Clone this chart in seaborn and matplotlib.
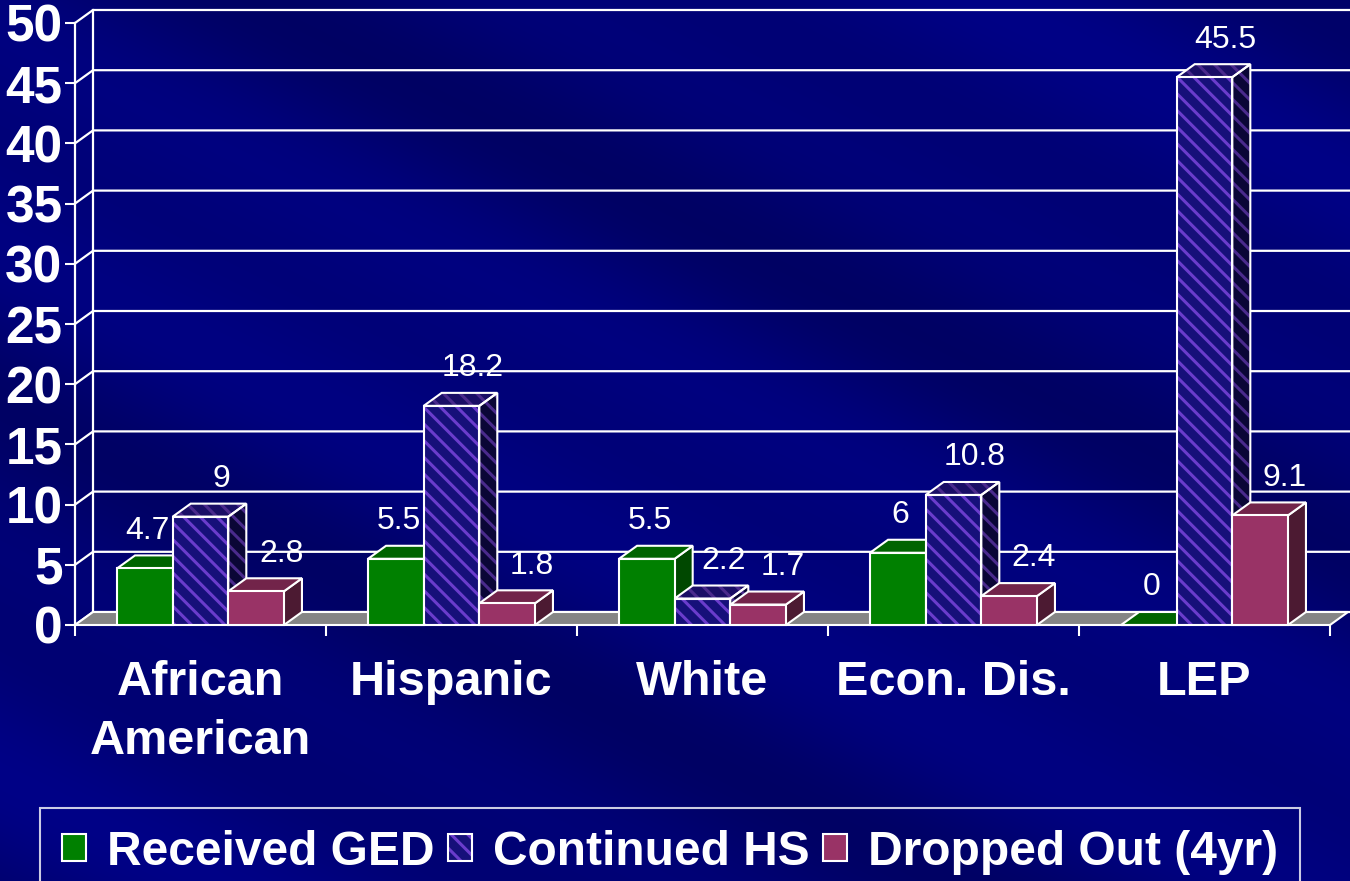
import matplotlib
matplotlib.use("Agg")
import matplotlib.pyplot as plt
from matplotlib.patches import Polygon, Rectangle, Patch
from matplotlib.legend_handler import HandlerTuple
import numpy as np
import pandas as pd
import seaborn as sns

# Data
groups = ["African\nAmerican", "Hispanic", "White", "Econ. Dis.", "LEP"]
series = ["Received GED", "Continued HS", "Dropped Out (4yr)"]
received_ged = [4.7, 5.5, 5.5, 6, 0]
continued_hs = [9, 18.2, 2.2, 10.8, 45.5]
dropped_out = [2.8, 1.8, 1.7, 2.4, 9.1]
y_ticks = list(range(0, 51, 5))

df = pd.DataFrame({
    "group": groups * 3,
    "series": [series[0]] * 5 + [series[1]] * 5 + [series[2]] * 5,
    "value": received_ged + continued_hs + dropped_out,
})

plt.rcParams["font.family"] = ["Liberation Sans", "DejaVu Sans"]
plt.rcParams["hatch.linewidth"] = 2.2

front = {"Received GED": "#008000", "Continued HS": "#16107a", "Dropped Out (4yr)": "#993366"}
top = {"Received GED": "#006400", "Continued HS": "#1a0e66", "Dropped Out (4yr)": "#72244a"}
side = {"Received GED": "#004800", "Continued HS": "#0a0636", "Dropped Out (4yr)": "#4c1a32"}
stripe = "#6a3ccc"
stripe_dark = "#4a2a8c"
# horizontal nudge of the value labels, in points
label_dx = {"Received GED": -11, "Continued HS": 2, "Dropped Out (4yr)": 5}

fig = plt.figure(figsize=(13.5, 8.81), dpi=100)

# background with soft diagonal streaks
bg = fig.add_axes([0, 0, 1, 1], zorder=-10)
H, W = 881, 1350
yy, xx = np.mgrid[0:H, 0:W]
u = yy - 0.5 * xx
band = 0.5 + 0.3 * np.sin(u / 95.0) + 0.2 * np.sin(u / 41.0 + 1.3)
blue = 0.39 + 0.14 * band
img = np.dstack([np.zeros_like(blue), np.zeros_like(blue) + 0.005, blue])
bg.imshow(img, aspect="auto", extent=[0, 1, 0, 1])
bg.axis("off")

ax = fig.add_axes([75 / 1350, 1 - 625 / 881, 1255 / 1350, 602 / 881])
ax.set_facecolor("none")

sns.barplot(data=df, x="group", y="value", hue="series", palette=front,
            width=0.665, saturation=1, edgecolor="white", linewidth=1.5,
            legend=False, ax=ax)

ax.set_xlim(-0.5, 4.5)
ax.set_ylim(0, 50)
dx = 18 / 251
dy = 13 * 50 / 602

# bars grouped by series (one container per hue level)
bars = []
for k, cont in enumerate(ax.containers):
    for p in cont.patches:
        bars.append((p, series[k]))
bars.sort(key=lambda t: t[0].get_x())

# back wall gridlines and floor
for t in y_ticks:
    ax.plot([-0.5, -0.5 + dx, 4.5 + dx + 0.02], [t, t + dy, t + dy],
            color="white", lw=1.6, zorder=1, clip_on=False)
ax.plot([-0.5 + dx, -0.5 + dx], [dy, 50 + dy], color="white", lw=1.6, zorder=1, clip_on=False)
ax.add_patch(Polygon([(-0.5, 0), (4.5, 0), (4.5 + dx, dy), (-0.5 + dx, dy)],
                     closed=True, facecolor="#858585", edgecolor="white", lw=1.5,
                     zorder=2, clip_on=False))

# 3-D faces for each bar
for i, (p, name) in enumerate(bars):
    x0, w, h = p.get_x(), p.get_width(), p.get_height()
    z = 3 + i * 0.01
    top_pts = [(x0, h), (x0 + w, h), (x0 + w + dx, h + dy), (x0 + dx, h + dy)]
    side_pts = [(x0 + w, 0), (x0 + w + dx, dy), (x0 + w + dx, h + dy), (x0 + w, h)]
    if name == "Continued HS":
        ax.add_patch(Polygon(side_pts, facecolor=side[name], edgecolor=stripe_dark,
                             hatch="\\\\", lw=0, zorder=z, clip_on=False))
        ax.add_patch(Polygon(top_pts, facecolor=top[name], edgecolor=stripe_dark,
                             hatch="\\\\", lw=0, zorder=z, clip_on=False))
        ax.add_patch(Polygon(side_pts, fill=False, edgecolor="white", lw=1.5, zorder=z, clip_on=False))
        ax.add_patch(Polygon(top_pts, fill=False, edgecolor="white", lw=1.5, zorder=z, clip_on=False))
        p.set_edgecolor(stripe)
        p.set_hatch("\\\\")
        p.set_linewidth(0)
        p.set_zorder(z + 0.004)
        ax.add_patch(Rectangle((x0, 0), w, h, fill=False, edgecolor="white",
                               lw=1.5, zorder=z + 0.005))
    else:
        ax.add_patch(Polygon(side_pts, facecolor=side[name], edgecolor="white",
                             lw=1.5, zorder=z, clip_on=False))
        ax.add_patch(Polygon(top_pts, facecolor=top[name], edgecolor="white",
                             lw=1.5, zorder=z, clip_on=False))
        p.set_zorder(z + 0.005)
        p.set_clip_on(False)
    ax.annotate(f"{h:g}", (x0 + w / 2 + dx, h + dy), xytext=(label_dx[name], 12),
                textcoords="offset points", ha="center", va="baseline",
                color="white", fontsize=23, zorder=10, annotation_clip=False)

# axes styling
for s in ["top", "right", "bottom"]:
    ax.spines[s].set_visible(False)
ax.spines["left"].set_color("white")
ax.spines["left"].set_linewidth(1.6)
ax.set_yticks(y_ticks)
ax.tick_params(axis="y", colors="white", length=7, width=1.5, pad=2,
               labelsize=37)
for t in ax.get_yticklabels():
    t.set_fontweight("bold")
ax.set_xticks(range(5))
ax.set_xticks(np.arange(-0.5, 5, 1), minor=True)
ax.tick_params(axis="x", which="major", length=0, pad=25, labelsize=35,
               labelcolor="white")
ax.tick_params(axis="x", which="minor", length=8, width=1.5, color="white")
for t in ax.get_xticklabels():
    t.set_fontweight("bold")
    t.set_linespacing(1.4)
ax.set_xlabel("")
ax.set_ylabel("")

# legend
h_ged = Patch(facecolor=front["Received GED"], edgecolor="white", lw=1.5)
h_hs = (Patch(facecolor=front["Continued HS"], edgecolor=stripe, hatch="\\\\", lw=0),
        Patch(fill=False, edgecolor="white", lw=1.5))
h_do = Patch(facecolor=front["Dropped Out (4yr)"], edgecolor="white", lw=1.5)
leg = fig.legend([h_ged, h_hs, h_do], series, loc="upper left",
                 bbox_to_anchor=(40 / 1350, 0, 1260 / 1350, 1 - 808 / 881),
                 mode="expand", ncol=3, frameon=True, fancybox=False,
                 edgecolor="white", facecolor="none", framealpha=None,
                 prop={"size": 34.5, "weight": "bold"}, labelcolor="white",
                 handlelength=0.5, handleheight=0.5, handletextpad=0.45,
                 columnspacing=0.3, borderpad=0.45, borderaxespad=0,
                 handler_map={tuple: HandlerTuple(ndivide=1, pad=0)})
leg.get_frame().set_linewidth(1.5)

fig.savefig("out.png", dpi=100)
